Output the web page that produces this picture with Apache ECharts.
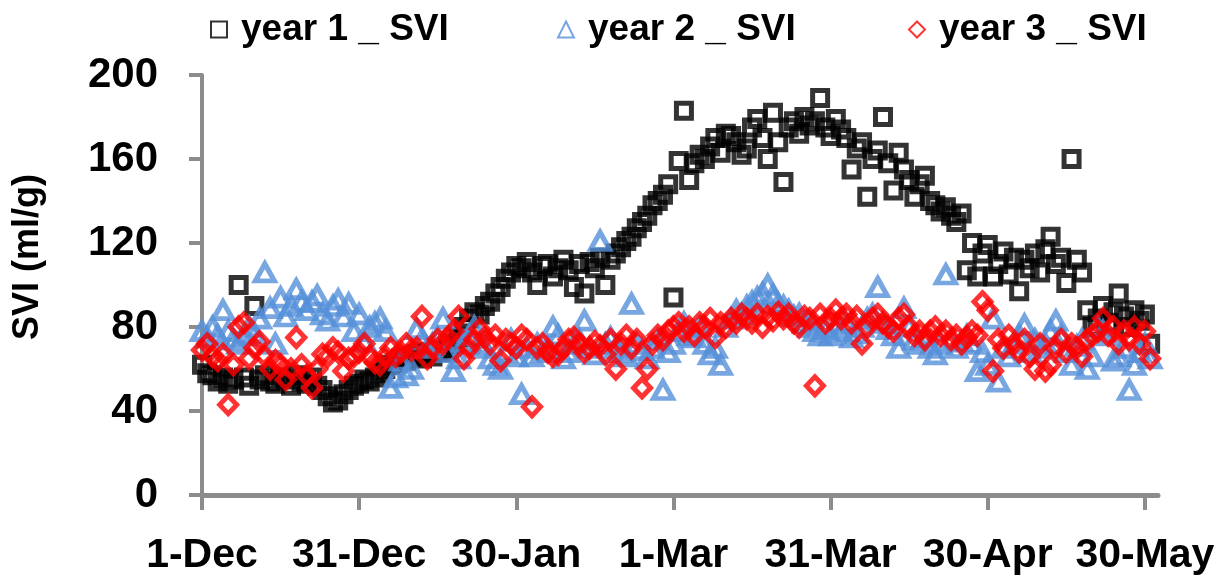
<!DOCTYPE html>
<html>
<head>
<meta charset="utf-8">
<script src="https://cdn.jsdelivr.net/npm/echarts@6/dist/echarts.min.js"></script>
<style>
html,body{margin:0;padding:0;background:#fff;}
#chart{width:1220px;height:577px;}
</style>
</head>
<body>
<div id="chart"></div>
<script>
// x positions: day index counted from 1-Dec
const tickDays = [0, 30, 60, 90, 120, 150, 180];
const tickLabels = ['1-Dec', '31-Dec', '30-Jan', '1-Mar', '31-Mar', '30-Apr', '30-May'];
const yTicks = [0, 40, 80, 120, 160, 200];
const seriesNames = ['year 1 _ SVI', 'year 2 _ SVI', 'year 3 _ SVI'];

// SVI (ml/g), one value per day from 1-Dec
const year1SVI = [
  62, 58, 57, 54, 56, 53, 55, 100, 56, 52,
  90, 55, 57, 54, 53, 56, 55, 52, 57, 54,
  53, 56, 52, 50, 47, 44, 45, 48, 50, 52,
  53, 55, 54, 56, 58, 60, 62, 63, 65, 64,
  66, 67, 65, 68, 66, 69, 68, 70, 72, 75,
  80, 84, 87, 86, 90, 92, 96, 99, 103, 106,
  109, 108, 111, 106, 100, 109, 110, 104, 108, 112,
  107, 99, 110, 96, 111, 108, 113, 100, 112, 115,
  118, 121, 123, 127, 130, 133, 138, 140, 143, 148,
  94, 159, 183, 150, 158, 162, 160, 166, 170, 163,
  172, 171, 168, 162, 165, 175, 179, 170, 160, 182,
  168, 149, 175, 178, 172, 180, 176, 178, 189, 175,
  171, 179, 174, 170, 155, 165, 168, 142, 160, 164,
  180, 158, 145, 163, 155, 150, 142, 148, 152, 140,
  138, 135, 137, 133, 130, 134, 107, 120, 104, 115,
  119, 104, 110, 116, 105, 113, 97, 112, 108, 115,
  106, 117, 123, 110, 113, 101, 160, 112, 106, 88,
  80, 84, 90, 82, 87, 96, 85, 80, 88, 83,
  86, 72
];
const year2SVI = [
  78, 75, 80, 76, 88, 78, 74, 72, 76, 80,
  77, 84, 106, 89, 72, 94, 85, 90, 98, 92,
  88, 92, 95, 86, 83, 90, 93, 85, 91, 78,
  86, 73, 80, 82, 84, 78, 51, 56, 64, 57,
  60, 79, 74, 70, 72, 75, 84, 68, 59, 65,
  73, 76, 80, 72, 70, 65, 62, 60, 68, 74,
  66, 48, 70, 66, 72, 68, 70, 80, 76, 65,
  68, 72, 74, 83, 70, 67, 121, 72, 75, 70,
  68, 66, 91, 72, 69, 65, 70, 74, 50, 68,
  72, 78, 82, 76, 75, 80, 72, 67, 70, 62,
  80, 84, 88, 86, 90, 92, 94, 96, 100, 95,
  91, 90, 88, 85, 86, 82, 80, 78, 76, 79,
  76, 80, 78, 82, 75, 77, 80, 84, 86, 99,
  82, 79, 76, 70, 89, 80, 74, 72, 75, 70,
  67, 72, 105, 74, 70, 73, 76, 72, 59, 68,
  62, 84, 54, 70, 66, 72, 76, 81, 68, 74,
  70, 72, 78, 83, 76, 68, 62, 71, 74, 60,
  66, 80, 78, 76, 64, 66, 70, 50, 62, 68,
  72, 65
];
const year3SVI = [
  69, 72, 66, 64, 67, 43, 62, 80, 82, 65,
  70, 73, 66, 60, 64, 62, 55, 60, 75, 62,
  57, 51, 60, 67, 66, 70, 68, 59, 65, 66,
  68, 72, 66, 63, 62, 66, 70, 66, 68, 72,
  69, 70, 85, 65, 70, 74, 72, 75, 78, 85,
  65, 70, 74, 79, 75, 72, 76, 64, 74, 72,
  70, 76, 74, 42, 70, 72, 68, 66, 67, 70,
  74, 75, 72, 68, 70, 73, 71, 67, 74, 60,
  72, 76, 70, 74, 51, 60, 72, 76, 74, 78,
  80, 82, 78, 80, 76, 82, 80, 84, 75, 82,
  80, 84, 82, 86, 84, 82, 86, 80, 85, 83,
  87, 84, 86, 82, 80, 85, 84, 52, 86, 82,
  84, 88, 84, 86, 82, 85, 72, 80, 84, 86,
  82, 80, 78, 84, 86, 80, 76, 78, 74, 78,
  80, 76, 78, 74, 76, 72, 75, 78, 76, 92,
  88, 59, 74, 70, 76, 72, 68, 74, 66, 60,
  72, 59, 62, 70, 74, 68, 72, 70, 66, 74,
  76, 78, 84, 76, 80, 72, 78, 74, 80, 72,
  78, 65
];

const FONT = "'Liberation Sans', Arial, sans-serif";
const AXIS_GRAY = '#8c8c8c';
const BLACK = '#000000';
const BLUE = '#5590d9';
const RED = '#ff0000';

function pairs(vals) {
  return vals.map((v, i) => [i, v]);
}

function legendFor(name, left, color, symbol) {
  return {
    data: [{ name: name, icon: symbol, itemStyle: { color: '#ffffff', borderColor: color, borderWidth: 2 } }],
    left: left,
    top: 6,
    itemWidth: 16,
    itemHeight: 16,
    textStyle: { fontFamily: FONT, fontWeight: 'bold', fontSize: 37, color: '#000', padding: [0, 0, 0, 9] },
    selectedMode: false
  };
}

const chart = echarts.init(document.getElementById('chart'), null, { renderer: 'canvas' });
chart.setOption({
  animation: false,
  backgroundColor: '#ffffff',
  grid: { left: 202, right: 62, top: 75, bottom: 82, containLabel: false },
  legend: [
    legendFor(seriesNames[0], 205, BLACK, 'rect'),
    legendFor(seriesNames[1], 552, BLUE, 'triangle'),
    legendFor(seriesNames[2], 903, RED, 'diamond')
  ],
  graphic: [{
    type: 'text',
    x: 28,
    y: 257,
    rotation: Math.PI / 2,
    style: {
      text: 'SVI (ml/g)',
      fontFamily: FONT,
      fontWeight: 'bold',
      fontSize: 36,
      fill: '#000',
      align: 'center',
      verticalAlign: 'middle'
    }
  }],
  xAxis: {
    type: 'value',
    min: 0,
    max: 182.5,
    interval: 30,
    axisLine: { show: true, onZero: false, lineStyle: { color: AXIS_GRAY, width: 5 } },
    axisTick: { show: true, inside: false, length: 15, customValues: tickDays, lineStyle: { color: AXIS_GRAY, width: 4 } },
    axisLabel: {
      customValues: tickDays,
      formatter: function (v) { const i = tickDays.indexOf(v); return i >= 0 ? tickLabels[i] : ''; },
      fontFamily: FONT, fontWeight: 'bold', fontSize: 41, color: '#000', margin: 40
    },
    splitLine: { show: false }
  },
  yAxis: {
    type: 'value',
    min: yTicks[0],
    max: yTicks[yTicks.length - 1],
    interval: 40,
    axisLine: { show: true, lineStyle: { color: AXIS_GRAY, width: 4 } },
    axisTick: { show: true, inside: false, length: 13, lineStyle: { color: AXIS_GRAY, width: 4 } },
    axisLabel: { fontFamily: FONT, fontWeight: 'bold', fontSize: 42, color: '#000', margin: 44 },
    splitLine: { show: false }
  },
  series: [
    {
      name: seriesNames[0], type: 'scatter', symbol: 'rect', symbolSize: 15,
      itemStyle: { color: 'rgba(0,0,0,0)', borderColor: BLACK, borderWidth: 5 },
      data: pairs(year1SVI)
    },
    {
      name: seriesNames[1], type: 'scatter', symbol: 'triangle', symbolSize: [19, 17],
      itemStyle: { color: 'rgba(0,0,0,0)', borderColor: BLUE, borderWidth: 5 },
      data: pairs(year2SVI)
    },
    {
      name: seriesNames[2], type: 'scatter', symbol: 'diamond', symbolSize: [17, 18],
      itemStyle: { color: 'rgba(0,0,0,0)', borderColor: RED, borderWidth: 5 },
      data: pairs(year3SVI)
    }
  ]
});
</script>
</body>
</html>
